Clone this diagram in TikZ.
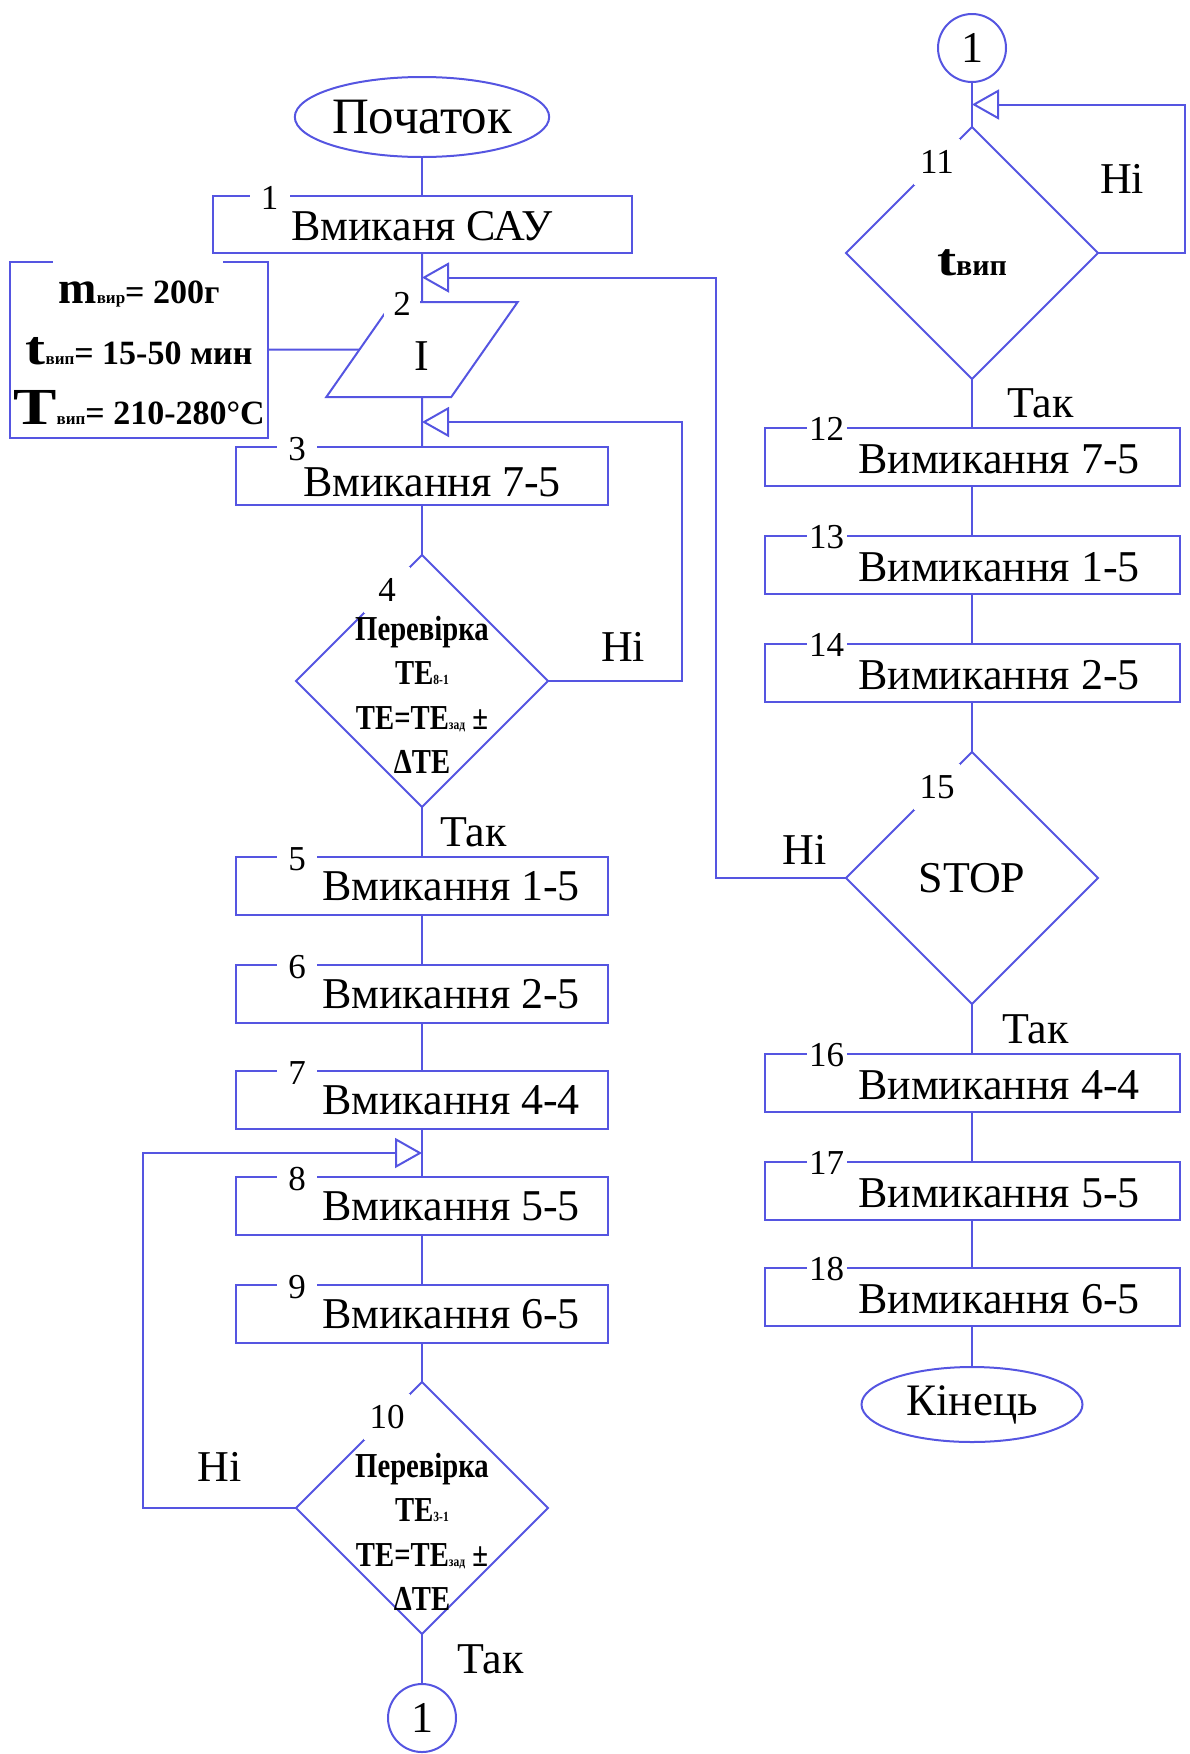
\documentclass[tikz,border=0pt]{standalone}
\usepackage{fontspec}
\setmainfont{Liberation Serif}
\newfontfamily\narrowfont[FakeStretch=0.82]{Liberation Serif}
\newfontfamily\widefont[FakeStretch=1.25]{Liberation Serif}
\usepackage{tikz}
\usetikzlibrary{shapes, arrows.meta, positioning, calc}
\definecolor{flow}{RGB}{85,85,225}

\begin{document}
\begin{tikzpicture}[x=1pt, y=-1pt, line width=2pt, color=flow,
    every node/.style={text=black, outer sep=0pt, font=\fontsize{44}{52}\selectfont},
    box/.style={rectangle, draw, minimum width=372pt, minimum height=58pt, inner sep=0pt},
    rbox/.style={box, minimum width=415pt},
    term/.style={ellipse, draw, inner sep=0pt},
    para/.style={trapezium, trapezium left angle=60, trapezium right angle=120, trapezium stretches=true,
        draw, minimum width=192pt, minimum height=95pt, inner sep=0pt},
    dec/.style={diamond, draw, minimum width=252pt, minimum height=252pt, inner sep=0pt},
    conn/.style={circle, draw, minimum size=68pt, inner sep=0pt},
    num/.style={fill=white, inner sep=2pt, anchor=center, font=\fontsize{35}{35}\selectfont},
    nb/.style={label={[num, minimum width=40pt, xshift=61pt, yshift=-2pt]north west:#1}},
    nbr/.style={label={[num, minimum width=40pt, xshift=62pt, yshift=-1pt]north west:#1}},
    dn/.style={label={[num, minimum size=46pt, xshift=-35pt, yshift=91pt]center:#1}},
    txt/.style={label={[xshift=29pt]center:#1}},
    rtxt/.style={label={[xshift=27pt, yshift=-2pt]center:#1}},
    dtext/.style={font=\narrowfont\bfseries\fontsize{35}{44.5}\selectfont, align=center},
    lbl/.style={inner sep=0pt},
    into/.style={-{Triangle[open, length=27pt, width=30pt]}}]
    \useasboundingbox (0,0) rectangle (1189,1754);

    % left column
    \node (s0) [term, minimum width=240pt, minimum height=80pt, font=\fontsize{51}{51}\selectfont] at (422,117) {Початок};
    \node (b1) [box, minimum width=419pt, minimum height=57pt, below=39pt of s0,
        label={[num, minimum width=40pt, xshift=57pt, yshift=-2pt]north west:1},
        label={[yshift=-2pt]center:Вмиканя САУ}] {};
    \node (p2) [para, below=49pt of b1, label={[yshift=-7pt]center:I},
        label={[num, minimum width=36pt, xshift=-20pt, yshift=46pt]center:2}] {\phantom{I}};
    \node (b3) [box, nb=3, below=50pt of p2, label={[xshift=10pt, yshift=-6pt]center:Вмикання 7-5}] {};
    \node (d4) [dec, dn=4, below=50pt of b3,
        label={[dtext, yshift=-14pt]center:{Перевірка\\TE{\fontsize{14}{14}\selectfont 8-1}\\TE=TE{\fontsize{14}{14}\selectfont зад} ±\\ΔTE}}] {};
    \node (b5) [box, nb=5, txt=Вмикання 1-5, below=50pt of d4] {};
    \node (b6) [box, nb=6, txt=Вмикання 2-5, below=50pt of b5] {};
    \node (b7) [box, nb=7, txt=Вмикання 4-4, below=48pt of b6] {};
    \node (b8) [box, nb=8, txt=Вмикання 5-5, below=48pt of b7] {};
    \node (b9) [box, nb=9, txt=Вмикання 6-5, below=50pt of b8] {};
    \node (d10) [dec, dn=10, below=39pt of b9,
        label={[dtext, yshift=-24pt]center:{Перевірка\\TE{\fontsize{14}{14}\selectfont 3-1}\\TE=TE{\fontsize{14}{14}\selectfont зад} ±\\ΔTE}}] {};
    \node (c1) [conn, below=50pt of d10] {1};

    % input data
    \node (info) [minimum width=258pt, minimum height=176pt, align=center, font=\bfseries\fontsize{34}{52}\selectfont] at (139,349.5)
        {\rule{0pt}{30pt}{\fontsize{46}{52}\selectfont m}{\fontsize{17}{17}\selectfont вир}= 200г\\[9pt]
         {\widefont\fontsize{48}{52}\selectfont t}{\fontsize{17}{17}\selectfont вип}= 15-50 мин\\[8pt]
         {\widefont\fontsize{52}{52}\selectfont T}{\fontsize{17}{17}\selectfont вип}= 210-280°C};
    \draw (info.north west) ++(43,0) -- (info.north west) -- (info.south west) -- (info.south east) -- (info.north east) -- ++(-45,0);

    % right column
    \node (c1r) [conn] at (972,48) {1};
    \node (d11) [dec, dn=11, below=45pt of c1r,
        label={[font=\bfseries, yshift=-10pt]center:{{\widefont\fontsize{46}{46}\selectfont t}{\fontsize{30}{30}\selectfont вип}}}] {};
    \node (b12) [rbox, nbr=12, rtxt=Вимикання 7-5, below=49pt of d11] {};
    \node (b13) [rbox, nbr=13, rtxt=Вимикання 1-5, below=50pt of b12] {};
    \node (b14) [rbox, nbr=14, rtxt=Вимикання 2-5, below=50pt of b13] {};
    \node (d15) [dec, dn=15, below=50pt of b14] {STOP};
    \node (b16) [rbox, nbr=16, rtxt=Вимикання 4-4, below=50pt of d15] {};
    \node (b17) [rbox, nbr=17, rtxt=Вимикання 5-5, below=50pt of b16] {};
    \node (b18) [rbox, nbr=18, rtxt=Вимикання 6-5, below=48pt of b17] {};
    \node (e18) [term, minimum width=221pt, minimum height=75pt, font=\fontsize{45}{45}\selectfont, below=41pt of b18] {Кінець};

    \coordinate (j1) at ($(b1.south)!0.5!(p2.north)$);
    \coordinate (j2) at ($(p2.south)!0.5!(b3.north)$);
    \coordinate (j3) at ($(b7.south)!0.5!(b8.north)$);
    \coordinate (j11) at ($(c1r.south)!0.5!(d11.north)$);

    \draw (s0) -- (b1);
    \draw (b1) -- (p2);
    \draw (p2) -- (b3);
    \draw (b3) -- (d4);
    \draw (d4) -- node[lbl, right=18pt] {Так} (b5);
    \draw (b5) -- (b6);
    \draw (b6) -- (b7);
    \draw (b7) -- (b8);
    \draw (b8) -- (b9);
    \draw (b9) -- (d10);
    \draw (d10) -- node[lbl, right=35pt] {Так} (c1);
    \draw (info) -- (p2);

    \draw (c1r) -- (d11);
    \draw (d11) -- node[lbl, right=35pt] {Так} (b12);
    \draw (b12) -- (b13);
    \draw (b13) -- (b14);
    \draw (b14) -- (d15);
    \draw (d15) -- node[lbl, right=30pt] {Так} (b16);
    \draw (b16) -- (b17);
    \draw (b17) -- (b18);
    \draw (b18) -- (e18);

    % loops
    \draw [into] (d4.east) -- node[lbl, above=20pt, pos=0.56] {Ні} ++(134,0) |- (j2);
    \draw [into] (d10.west) -- node[lbl, above=27pt] {Ні} ++(-153,0) |- (j3);
    \draw [into] (d11.east) -- ++(87,0) |- node[lbl, left=41pt, pos=0.25] {Ні} (j11);
    \draw [into] (d15.west) -- node[lbl, above=14pt, pos=0.32] {Ні} ++(-130,0) |- (j1);
\end{tikzpicture}
\end{document}
